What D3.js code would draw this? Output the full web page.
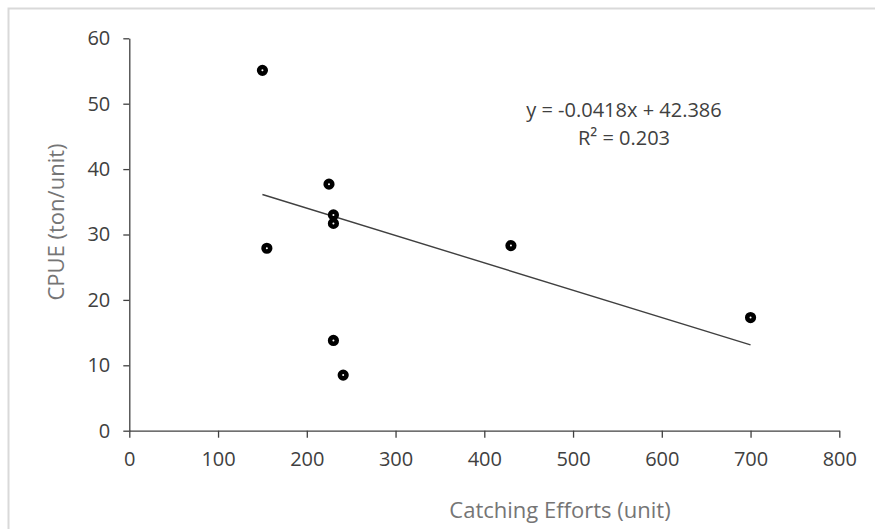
<!DOCTYPE html>
<html>
<head>
<meta charset="utf-8">
<script src="https://cdn.jsdelivr.net/npm/d3@7"></script>
<style>
  html, body { margin: 0; padding: 0; background: #fff; }
  svg { display: block; font-family: "Open Sans", "Noto Sans", sans-serif; }
</style>
</head>
<body>
<div id="chart"></div>
<script>
/* ── Data ── */
const effort = [150, 155, 225, 230, 230, 230, 241, 430, 700];
const cpue   = [55.1, 27.9, 37.7, 33.0, 31.7, 13.8, 8.5, 28.3, 17.3];
const xTicks = [0, 100, 200, 300, 400, 500, 600, 700, 800];
const yTicks = [0, 10, 20, 30, 40, 50, 60];
const slope = -0.0418, intercept = 42.386;
const eqLines = ['y = -0.0418x + 42.386', 'R² = 0.203'];

/* ── Layout ── */
const W = 875, H = 529;
const x = d3.scaleLinear().domain([0, 800]).range([129.3, 839.3]);
const y = d3.scaleLinear().domain([0, 60]).range([430.7, 38.3]);

const svg = d3.select('#chart').append('svg')
  .attr('width', W).attr('height', H);

// outer chart border
svg.append('rect')
  .attr('x', 8.5).attr('y', 8.5)
  .attr('width', W).attr('height', H)
  .attr('fill', '#fff').attr('stroke', '#d9d9d9').attr('stroke-width', 2);

/* ── Axes ── */
const xAxis = svg.append('g')
  .attr('transform', `translate(0,${y(0)})`)
  .call(d3.axisBottom(x).tickValues(xTicks).tickSize(7).tickSizeOuter(0).tickPadding(14));

const yAxis = svg.append('g')
  .attr('transform', `translate(${x(0)},0)`)
  .call(d3.axisLeft(y).tickValues(yTicks).tickSize(6).tickSizeOuter(0).tickPadding(13));

[xAxis, yAxis].forEach(function(g) {
  g.select('.domain').attr('stroke', '#404040').attr('stroke-width', 1.3);
  g.selectAll('.tick line').attr('stroke', '#404040').attr('stroke-width', 1.3);
  g.selectAll('.tick text')
    .attr('fill', '#404040')
    .style('font-size', '20px')
    .style('font-family', '"Open Sans", "Noto Sans", sans-serif');
});

/* ── Axis titles ── */
svg.append('text')
  .attr('x', 560).attr('y', 518)
  .attr('text-anchor', 'middle')
  .attr('fill', '#757575')
  .style('font-size', '22px')
  .text('Catching Efforts (unit)');

svg.append('text')
  .attr('transform', 'translate(64,222) rotate(-90)')
  .attr('text-anchor', 'middle')
  .attr('fill', '#757575')
  .style('font-size', '22px')
  .text('CPUE (ton/unit)');

/* ── Linear trendline over the data range ── */
const xr = d3.extent(effort);
svg.append('line')
  .attr('x1', x(xr[0])).attr('y1', y(slope * xr[0] + intercept))
  .attr('x2', x(xr[1])).attr('y2', y(slope * xr[1] + intercept))
  .attr('stroke', '#404040').attr('stroke-width', 1.4);

/* ── Points ── */
svg.append('g').selectAll('circle')
  .data(effort.map((e, i) => [e, cpue[i]]))
  .join('circle')
  .attr('cx', d => x(d[0]))
  .attr('cy', d => y(d[1]))
  .attr('r', 3.3)
  .attr('fill', '#fff')
  .attr('stroke', '#000')
  .attr('stroke-width', 4.6);

/* ── Regression label ── */
svg.append('g').selectAll('text')
  .data(eqLines)
  .join('text')
  .attr('x', 624)
  .attr('y', (d, i) => 117 + i * 28)
  .attr('text-anchor', 'middle')
  .attr('fill', '#404040')
  .style('font-size', '20px')
  .text(d => d);
</script>
</body>
</html>
